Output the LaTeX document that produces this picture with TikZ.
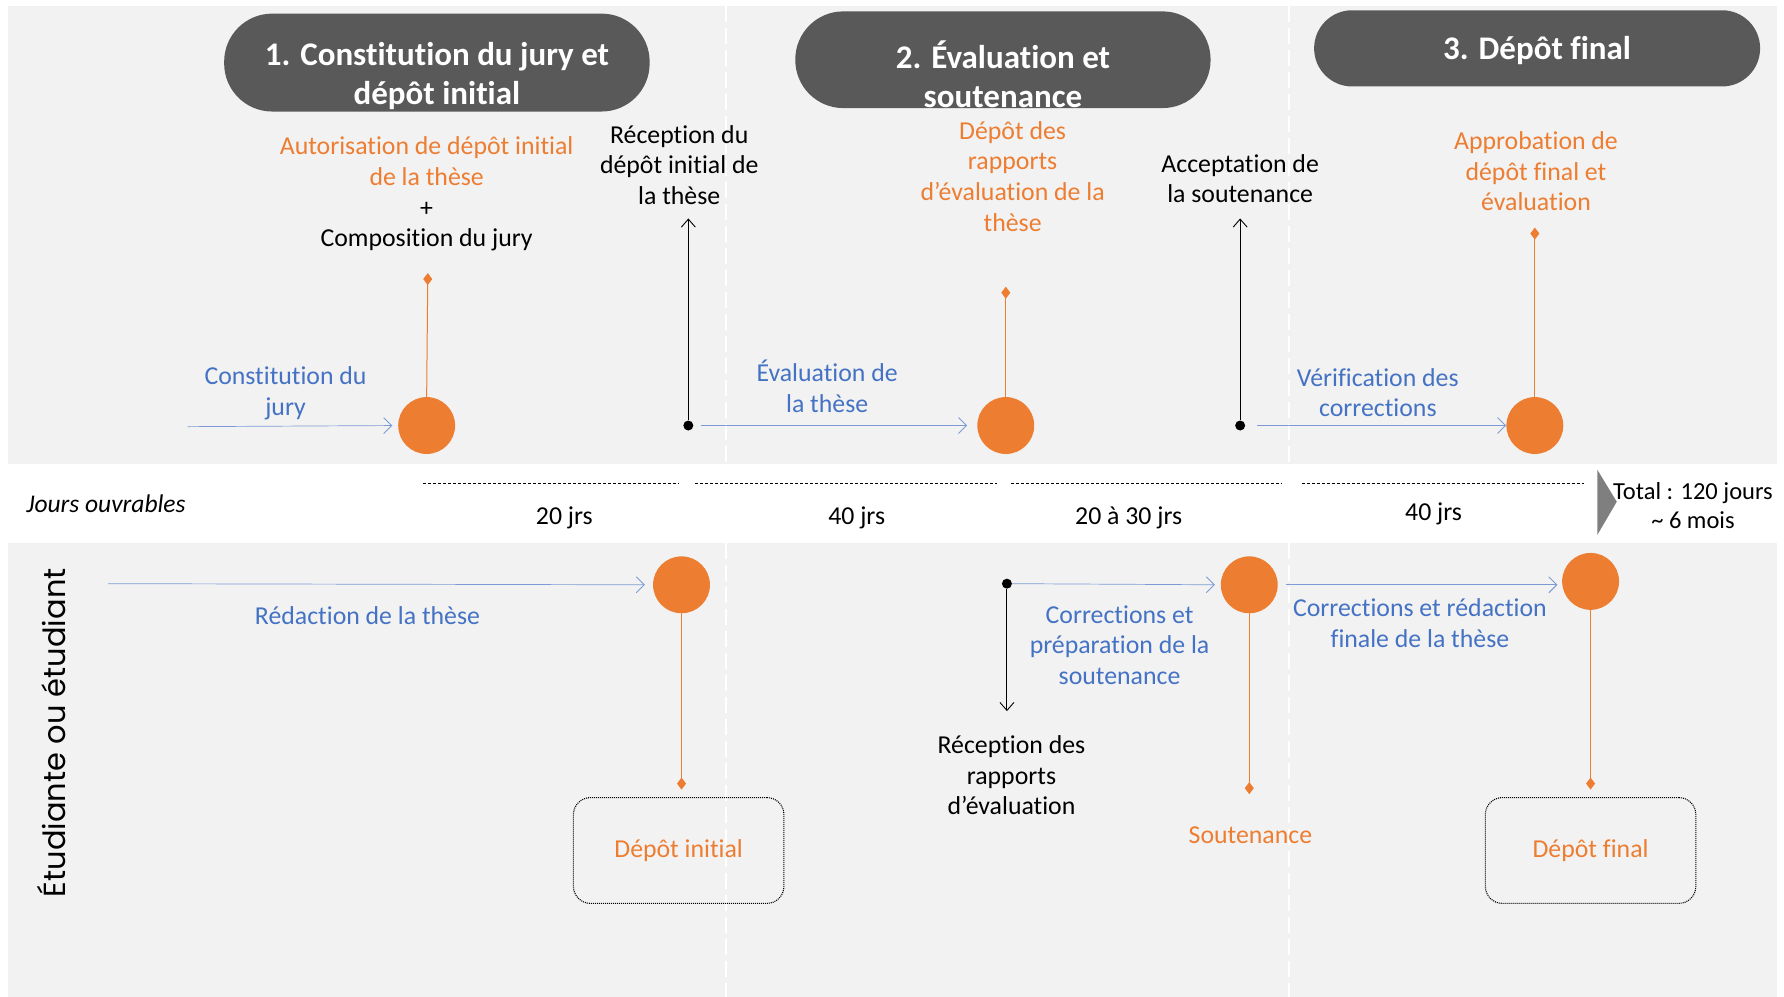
\documentclass[tikz,border=0pt]{standalone}
\usepackage{fontspec}
\setmainfont{Carlito}[Ligatures=NoCommon]
\newfontfamily\gothic{Poppins}
\usetikzlibrary{arrows.meta}
\definecolor{orng}{HTML}{ED7D31}
\definecolor{blu}{HTML}{4472C4}
\definecolor{bluline}{HTML}{7C9BD6}
\definecolor{pillc}{HTML}{595959}
\definecolor{bgc}{HTML}{F2F2F2}
\definecolor{trig}{HTML}{7F7F7F}
\tikzset{
  txt/.style={align=center, inner sep=0pt, font=\fontsize{25.8}{30.7}\selectfont},
  ptxt/.style={align=center, inner sep=0pt, text=white, font=\fontsize{33}{38.7}\selectfont\bfseries},
  pill/.style={fill=pillc, rounded corners=#1, inner sep=0pt},
  circ/.style={circle, fill=orng, minimum size=56.9pt, inner sep=0pt},
  bdot/.style={circle, fill=black, minimum size=10pt, inner sep=0pt},
  barrow/.style={draw=bluline, line width=0.7pt, -{Straight Barb[length=8pt,width=16pt,line width=0.9pt]}},
  karrow/.style={draw=black, line width=0.9pt, -{Straight Barb[length=8pt,width=14pt,line width=0.9pt]}},
  oline/.style={draw=orng, line width=1pt, -{Diamond[length=12pt,width=9pt]}},
  dotbox/.style={draw=black, line width=1.1pt, dash pattern=on 1pt off 1pt, rounded corners=17pt, minimum width=210.5pt, minimum height=105.8pt, inner sep=0pt, text=orng, font=\fontsize{25.8}{30.7}\selectfont},
  daydash/.style={draw=black, line width=0.8pt, dash pattern=on 3pt off 2pt},
  sep/.style={draw=white, line width=2pt, dash pattern=on 16pt off 6pt}
}
\begin{document}
\begin{tikzpicture}[x=1.1378pt,y=-1.1378pt]
\useasboundingbox (0,0) rectangle (1568,876);
\fill[white] (0,0) rectangle (1568,876);
\fill[bgc] (7,5) rectangle (1562,408);
\fill[bgc] (7,477) rectangle (1562,876);
\draw[sep] (638,5) -- (638,408);
\draw[sep] (638,477) -- (638,876);
\draw[sep] (1133,5) -- (1133,408);
\draw[sep] (1133,477) -- (1133,876);

% pills
\node[pill=48pt, minimum width=425.5pt, minimum height=97.9pt] (p1) at (384,55) {};
\node[ptxt] (p1t) at (384,67) {1. Constitution du jury et\\dépôt initial};
\node[pill=48pt, minimum width=415.3pt, minimum height=96.7pt] (p2) at (881.5,52.5) {};
\node[ptxt] (p2t) at (881.5,65.5) {2. Évaluation et\\soutenance};
\node[pill=38pt, minimum width=446pt, minimum height=76.2pt] (p3) at (1351,42.5) {};
\node[ptxt] (p3t) at (1351,44) {3. Dépôt final};

% top band labels
\node[txt] (autor) at (375,170.5) {\textcolor{orng}{Autorisation de dépôt initial}\\\textcolor{orng}{de la thèse}\\+\\Composition du jury};
\node[txt, text=blu] (constj) at (251,345.5) {Constitution du\\jury};
\node[txt] (recep1) at (597,145) {Réception du\\dépôt initial de\\la thèse};
\node[txt, text=blu] (evalt) at (727,339.5) {Évaluation de\\la thèse};
\node[txt, text=orng] (depra) at (890,155) {Dépôt des\\rapports\\d’évaluation de la\\thèse};
\node[txt] (accep) at (1090,157) {Acceptation de\\la soutenance};
\node[txt, text=blu] (verif) at (1211,345) {Vérification des\\corrections};
\node[txt, text=orng] (appro) at (1350,150.5) {Approbation de\\dépôt final et\\évaluation};

% top band circles and dots
\node[circ] (c1) at (375,374) {};
\node[circ] (c2) at (884,374) {};
\node[circ] (c3) at (1349,374) {};
\node[bdot] (b1) at (605,374) {};
\node[bdot] (b2) at (1090,374) {};
\coordinate (s1) at (165,375);
\coordinate (a1) at (605,192);
\coordinate (a2) at (1090,192);
\coordinate (dm1) at (376,240);
\coordinate (dm2) at (884,252);
\coordinate (dm3) at (1349,200);

\draw[barrow, shorten >=5.7pt] (s1) -- (c1.west);
\draw[barrow, shorten <=7pt, shorten >=10pt] (b1.east) -- (c2.west);
\draw[barrow, shorten <=12pt] (b2.east) -- (c3.west);
\draw[karrow] (b1) -- (a1);
\draw[karrow] (b2) -- (a2);
\draw[oline] (c1.north) -- (dm1);
\draw[oline] (c2.north) -- (dm2);
\draw[oline] (c3.north) -- (dm3);

% day band
\node[inner sep=0pt, anchor=west, font=\fontsize{25.5}{30}\selectfont\itshape] (jours) at (23,443) {Jours ouvrables};
\draw[daydash] (372,425) -- (597,425);
\draw[daydash] (611,425) -- (876,425);
\draw[daydash] (889,425) -- (1127,425);
\draw[daydash] (1144,425) -- (1392,425);
\node[txt] (j1) at (496,455) {20 jrs};
\node[txt] (j2) at (753,455) {40 jrs};
\node[txt] (j3) at (992,455) {20 à 30 jrs};
\node[txt] (j4) at (1260,451.5) {40 jrs};
\fill[trig] (1404,413) -- (1421,441) -- (1404,470) -- cycle;
\node[txt, font=\fontsize{24.5}{28.5}\selectfont] (total) at (1488,444.5) {Total : 120 jours\\\textasciitilde{} 6 mois};

% bottom band
\node[rotate=90, inner sep=0pt, font=\gothic\fontsize{30.5}{36}\selectfont] (etud) at (45,644) {Étudiante ou étudiant};
\node[circ] (d1) at (599,514) {};
\node[circ] (d2) at (1098,514) {};
\node[circ] (d3) at (1398,511) {};
\node[bdot] (b3) at (885,513) {};
\coordinate (s2) at (95,513);
\coordinate (a3) at (885,625);
\coordinate (dm4) at (599,694);
\coordinate (dm5) at (1098,698);
\coordinate (dm6) at (1398,694);

\node[txt, text=blu] (redac) at (323,541) {Rédaction de la thèse};
\node[txt, text=blu] (corr1) at (984,567) {Corrections et\\préparation de la\\soutenance};
\node[txt] (recep2) at (889,681.5) {Réception des\\rapports\\d’évaluation};
\node[txt, text=orng] (sout) at (1099,734) {Soutenance};
\node[txt, text=blu] (corr2) at (1248,547.5) {Corrections et rédaction\\finale de la thèse};
\node[dotbox] (box1) at (596.5,747.5) {Dépôt initial};
\node[dotbox] (box2) at (1398,747.5) {Dépôt final};

\draw[barrow, shorten >=8pt] (s2) -- (d1.west);
\draw[barrow, shorten >=5.7pt] (b3.east) -- (d2.west);
\draw[barrow, shorten <=8pt, shorten >=4.5pt] (d2.east) -- (d3.west |- d2.east);
\draw[karrow] (b3) -- (a3);
\draw[oline] (d1.south) -- (dm4);
\draw[oline] (d2.south) -- (dm5);
\draw[oline] (d3.south) -- (dm6);
\end{tikzpicture}
\end{document}
